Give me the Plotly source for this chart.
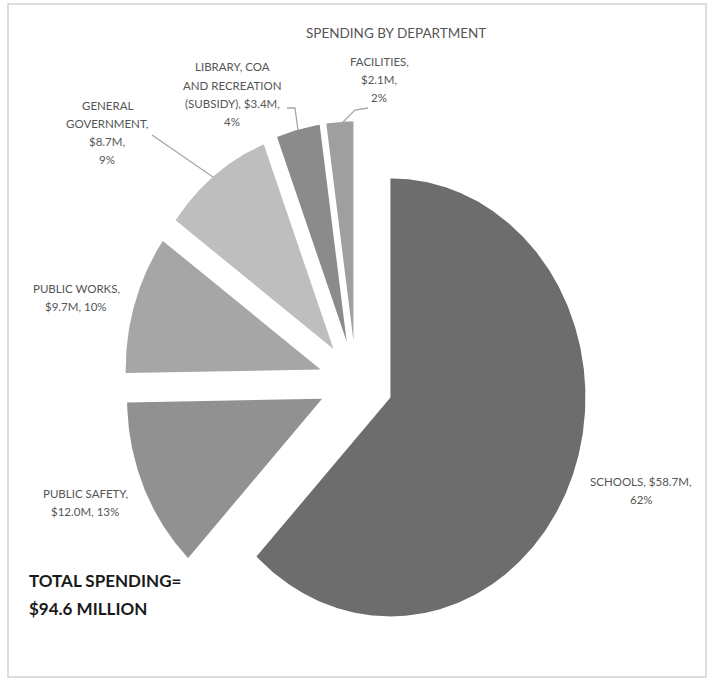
import numpy as np
import plotly.graph_objects as go

# Department spending (millions of dollars)
departments = ["SCHOOLS", "PUBLIC SAFETY", "PUBLIC WORKS", "GENERAL GOVERNMENT",
               "LIBRARY, COA AND RECREATION (SUBSIDY)", "FACILITIES"]
spending = [58.7, 12.0, 9.7, 8.7, 3.4, 2.1]
percent_labels = ["62%", "13%", "10%", "9%", "4%", "2%"]
amount_labels = ["$58.7M", "$12.0M", "$9.7M", "$8.7M", "$3.4M", "$2.1M"]
total_spending = 94.6

W, H = 712, 679
grays = ["#6d6d6d", "#919191", "#a6a6a6", "#bebebe", "#8b8b8b", "#9f9f9f"]

# pie geometry: centre (px), horizontal / vertical radius (px), explosion (radius units)
cx, cy = 356, 382
rx, ry = 195, 219
explode = 0.19


def px(x):
    return x / W


def py(y):
    return 1 - y / H


fig = go.Figure()

# exploded wedges, clockwise from 12 o'clock, on unit-radius axes
vals = np.array(spending, dtype=float)
edges = np.concatenate([[0], np.cumsum(vals)]) / vals.sum() * 2 * np.pi
for i, name in enumerate(departments):
    a0, a1 = edges[i], edges[i + 1]
    mid = (a0 + a1) / 2
    ox, oy = explode * np.sin(mid), explode * np.cos(mid)
    t = np.linspace(a0, a1, max(8, int((a1 - a0) / 0.01)))
    xs = np.concatenate([[ox], ox + np.sin(t), [ox]])
    ys = np.concatenate([[oy], oy + np.cos(t), [oy]])
    fig.add_trace(go.Scatter(
        x=xs, y=ys, mode="lines", fill="toself", fillcolor=grays[i],
        line=dict(width=0, color=grays[i]), name=name, hoverinfo="skip",
        showlegend=False,
    ))

label_font = dict(family="Lato", size=11.5, color="#555555")

# label lines: (centre x, first line y, lines)
label_blocks = [
    (641, 481, [f"{departments[0]}, {amount_labels[0]},", percent_labels[0]]),
    (85, 493, ["PUBLIC SAFETY,", f"{amount_labels[1]}, {percent_labels[1]}"]),
    (76, 288, ["PUBLIC WORKS,", f"{amount_labels[2]}, {percent_labels[2]}"]),
    (107, 105, ["GENERAL", "GOVERNMENT,", f"{amount_labels[3]},", percent_labels[3]]),
    (232, 67, ["LIBRARY, COA", "AND RECREATION", f"(SUBSIDY), {amount_labels[4]},", percent_labels[4]]),
    (379, 61, ["FACILITIES,", f"{amount_labels[5]},", percent_labels[5]]),
]

annotations = []
for x, y0, lines in label_blocks:
    for i, line in enumerate(lines):
        annotations.append(dict(
            x=px(x), y=py(y0 + i * 18.3), xref="paper", yref="paper",
            text=line, showarrow=False, xanchor="center", yanchor="middle",
            font=label_font,
        ))

annotations.append(dict(
    x=px(396), y=py(33), xref="paper", yref="paper", text="SPENDING BY DEPARTMENT",
    showarrow=False, xanchor="center", yanchor="middle",
    font=dict(family="Lato", size=13.5, color="#555555"),
))

for i, line in enumerate(["TOTAL SPENDING=", f"${total_spending} MILLION"]):
    annotations.append(dict(
        x=px(27), y=py(580 + i * 28), xref="paper", yref="paper", text=line,
        showarrow=False, xanchor="left", yanchor="middle",
        font=dict(family="Lato", size=17, color="#1a1a1a", weight="bold"),
    ))


def leader(points):
    d = "M " + " L ".join(f"{px(x):.5f},{py(y):.5f}" for x, y in points)
    return dict(type="path", path=d, xref="paper", yref="paper",
                line=dict(color="#a6a6a6", width=1.3))


shapes = [
    leader([(152, 135), (213, 177)]),
    leader([(287, 108), (295, 108), (298, 130)]),
    leader([(368, 108), (355, 110), (340, 125)]),
    dict(type="rect", xref="paper", yref="paper", x0=px(8), x1=px(706),
         y0=py(677), y1=py(4), line=dict(color="#d4d4d4", width=1.5)),
]

hidden = dict(visible=False, showgrid=False, zeroline=False, fixedrange=True)
fig.update_layout(
    width=W, height=H, margin=dict(l=0, r=0, t=0, b=0),
    paper_bgcolor="white", plot_bgcolor="white", showlegend=False,
    xaxis=dict(range=[-cx / rx, (W - cx) / rx], domain=[0, 1], **hidden),
    yaxis=dict(range=[-(H - cy) / ry, cy / ry], domain=[0, 1], **hidden),
    annotations=annotations, shapes=shapes,
)

fig.write_html("out.html")
